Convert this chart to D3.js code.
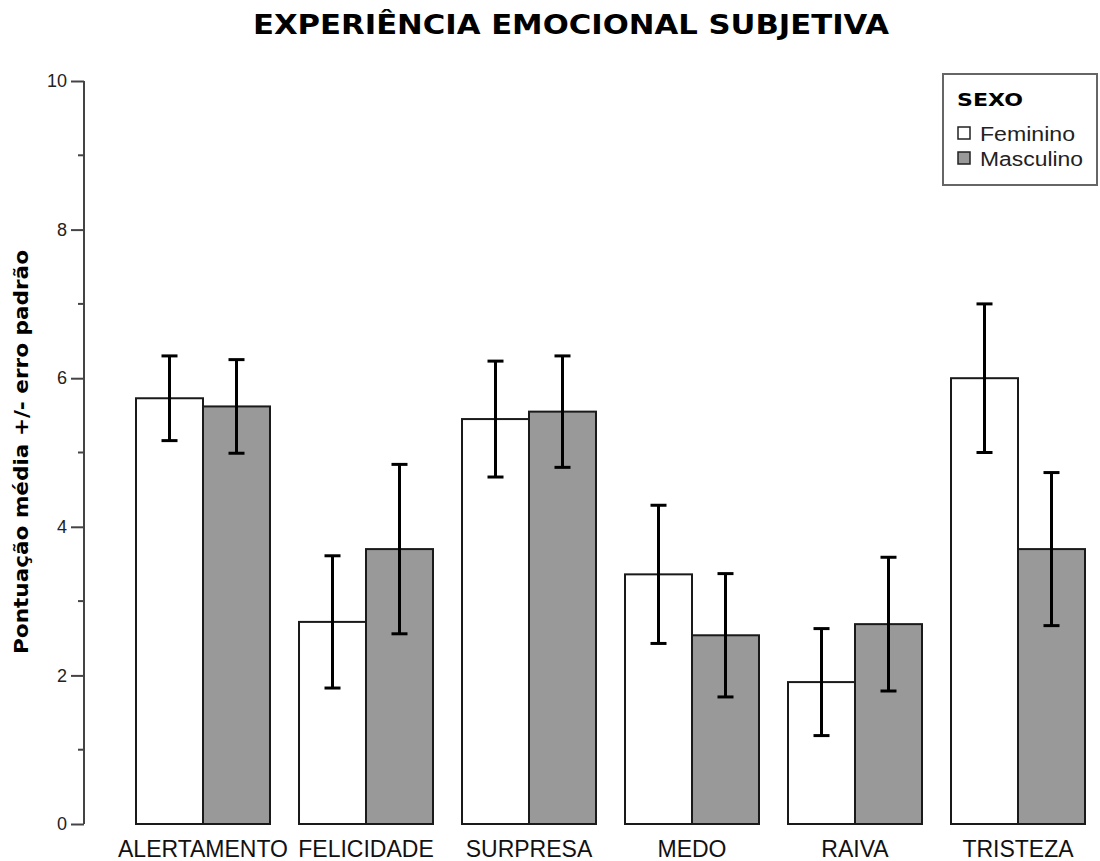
<!DOCTYPE html>
<html>
<head>
<meta charset="utf-8">
<script src="https://cdn.jsdelivr.net/npm/d3@7"></script>
<style>
  html, body { margin: 0; padding: 0; background: #fff; }
  svg { display: block; }
</style>
</head>
<body>
<svg id="chart" width="1100" height="861"></svg>
<script>
// Emotion categories and group means (± standard error) by sex
const categories = ["ALERTAMENTO", "FELICIDADE", "SURPRESA", "MEDO", "RAIVA", "TRISTEZA"];
const groups = ["Feminino", "Masculino"];
const femininoMean = [5.73, 2.72, 5.45, 3.36, 1.91, 6.00];
const femininoSE   = [0.57, 0.89, 0.78, 0.93, 0.72, 1.00];
const masculinoMean = [5.62, 3.70, 5.55, 2.54, 2.69, 3.70];
const masculinoSE   = [0.63, 1.14, 0.75, 0.83, 0.90, 1.03];
const yTicks = [0, 2, 4, 6, 8, 10];
const yMinorTicks = [1, 3, 5, 7, 9];

const fills = { Feminino: "#ffffff", Masculino: "#999999" };

const rows = categories.map((c, i) => ({
  category: c,
  values: [
    { group: "Feminino", mean: femininoMean[i], se: femininoSE[i] },
    { group: "Masculino", mean: masculinoMean[i], se: masculinoSE[i] }
  ]
}));

const svg = d3.select("#chart");

const x0 = d3.scaleBand()
  .domain(categories)
  .range([121.5, 1099.5])
  .paddingInner(0.178)
  .paddingOuter(0.089);

const x1 = d3.scaleBand()
  .domain(groups)
  .range([0, x0.bandwidth()])
  .padding(0);

const y = d3.scaleLinear().domain([0, 10]).range([824, 81]);

// Title
svg.append("text")
  .attr("x", 571)
  .attr("y", 34)
  .attr("text-anchor", "middle")
  .attr("font-family", "DejaVu Sans")
  .attr("font-weight", "bold")
  .attr("font-size", 26)
  .attr("textLength", 636)
  .attr("lengthAdjust", "spacingAndGlyphs")
  .attr("fill", "#000")
  .text("EXPERIÊNCIA EMOCIONAL SUBJETIVA");

// Y axis
const yAxis = d3.axisLeft(y)
  .tickValues(yTicks)
  .tickSize(13)
  .tickPadding(4)
  .tickFormat(d3.format("d"));

const gy = svg.append("g")
  .attr("transform", "translate(84,0)")
  .call(yAxis);
gy.select(".domain").attr("stroke", "#444").attr("stroke-width", 2).attr("d", `M0,${y(10)}V${y(0)}`);
gy.selectAll(".tick line").attr("stroke", "#444").attr("stroke-width", 2);
gy.selectAll(".tick text")
  .attr("font-family", "Liberation Sans, Arial, sans-serif")
  .attr("font-size", 18)
  .attr("fill", "#222");

gy.selectAll(".minor")
  .data(yMinorTicks)
  .join("line")
  .attr("class", "minor")
  .attr("x1", -6).attr("x2", 0)
  .attr("y1", d => y(d)).attr("y2", d => y(d))
  .attr("stroke", "#444")
  .attr("stroke-width", 2);

// Y axis title
svg.append("text")
  .attr("transform", "translate(28,452) rotate(-90)")
  .attr("text-anchor", "middle")
  .attr("font-family", "DejaVu Sans")
  .attr("font-weight", "bold")
  .attr("font-size", 19)
  .attr("textLength", 404)
  .attr("lengthAdjust", "spacingAndGlyphs")
  .attr("fill", "#000")
  .text("Pontuação média +/- erro padrão");

// Bars
const gGroups = svg.append("g")
  .selectAll("g")
  .data(rows)
  .join("g")
  .attr("transform", d => `translate(${x0(d.category)},0)`);

gGroups.selectAll("rect")
  .data(d => d.values)
  .join("rect")
  .attr("x", d => x1(d.group))
  .attr("y", d => y(d.mean))
  .attr("width", x1.bandwidth())
  .attr("height", d => y(0) - y(d.mean))
  .attr("fill", d => fills[d.group])
  .attr("stroke", "#1a1a1a")
  .attr("stroke-width", 2);

// Error bars (mean ± SE)
const capHalf = 8;
const eb = gGroups.selectAll("g.err")
  .data(d => d.values)
  .join("g")
  .attr("class", "err")
  .attr("transform", d => `translate(${x1(d.group) + x1.bandwidth() / 2},0)`);

eb.append("line")
  .attr("x1", 0).attr("x2", 0)
  .attr("y1", d => y(d.mean + d.se))
  .attr("y2", d => y(d.mean - d.se));
eb.append("line")
  .attr("x1", -capHalf).attr("x2", capHalf)
  .attr("y1", d => y(d.mean + d.se))
  .attr("y2", d => y(d.mean + d.se));
eb.append("line")
  .attr("x1", -capHalf).attr("x2", capHalf)
  .attr("y1", d => y(d.mean - d.se))
  .attr("y2", d => y(d.mean - d.se));
eb.selectAll("line").attr("stroke", "#000").attr("stroke-width", 3);

// Category labels
svg.append("g")
  .selectAll("text")
  .data(categories)
  .join("text")
  .attr("x", d => x0(d) + x0.bandwidth() / 2)
  .attr("y", 857)
  .attr("text-anchor", "middle")
  .attr("font-family", "Liberation Sans, Arial, sans-serif")
  .attr("font-size", 23)
  .attr("fill", "#111")
  .text(d => d);

// Legend
const lg = svg.append("g").attr("transform", "translate(943,74)");
lg.append("rect")
  .attr("x", 0).attr("y", 0)
  .attr("width", 154).attr("height", 111)
  .attr("fill", "#fff")
  .attr("stroke", "#666")
  .attr("stroke-width", 2);
lg.append("text")
  .attr("x", 14).attr("y", 32)
  .attr("font-family", "DejaVu Sans")
  .attr("font-weight", "bold")
  .attr("font-size", 18)
  .attr("textLength", 66)
  .attr("lengthAdjust", "spacingAndGlyphs")
  .attr("fill", "#000")
  .text("SEXO");
const legendWidths = { Feminino: 95, Masculino: 103 };
const items = lg.selectAll("g.item")
  .data(groups)
  .join("g")
  .attr("class", "item")
  .attr("transform", (d, i) => `translate(15,${53 + i * 25})`);
items.append("rect")
  .attr("x", 0).attr("y", 0)
  .attr("width", 12).attr("height", 12)
  .attr("fill", d => fills[d])
  .attr("stroke", "#222")
  .attr("stroke-width", 1.5);
items.append("text")
  .attr("x", 22).attr("y", 14)
  .attr("font-family", "Liberation Sans, Arial, sans-serif")
  .attr("font-size", 20)
  .attr("textLength", d => legendWidths[d])
  .attr("lengthAdjust", "spacingAndGlyphs")
  .attr("fill", "#222")
  .text(d => d);
</script>
</body>
</html>
